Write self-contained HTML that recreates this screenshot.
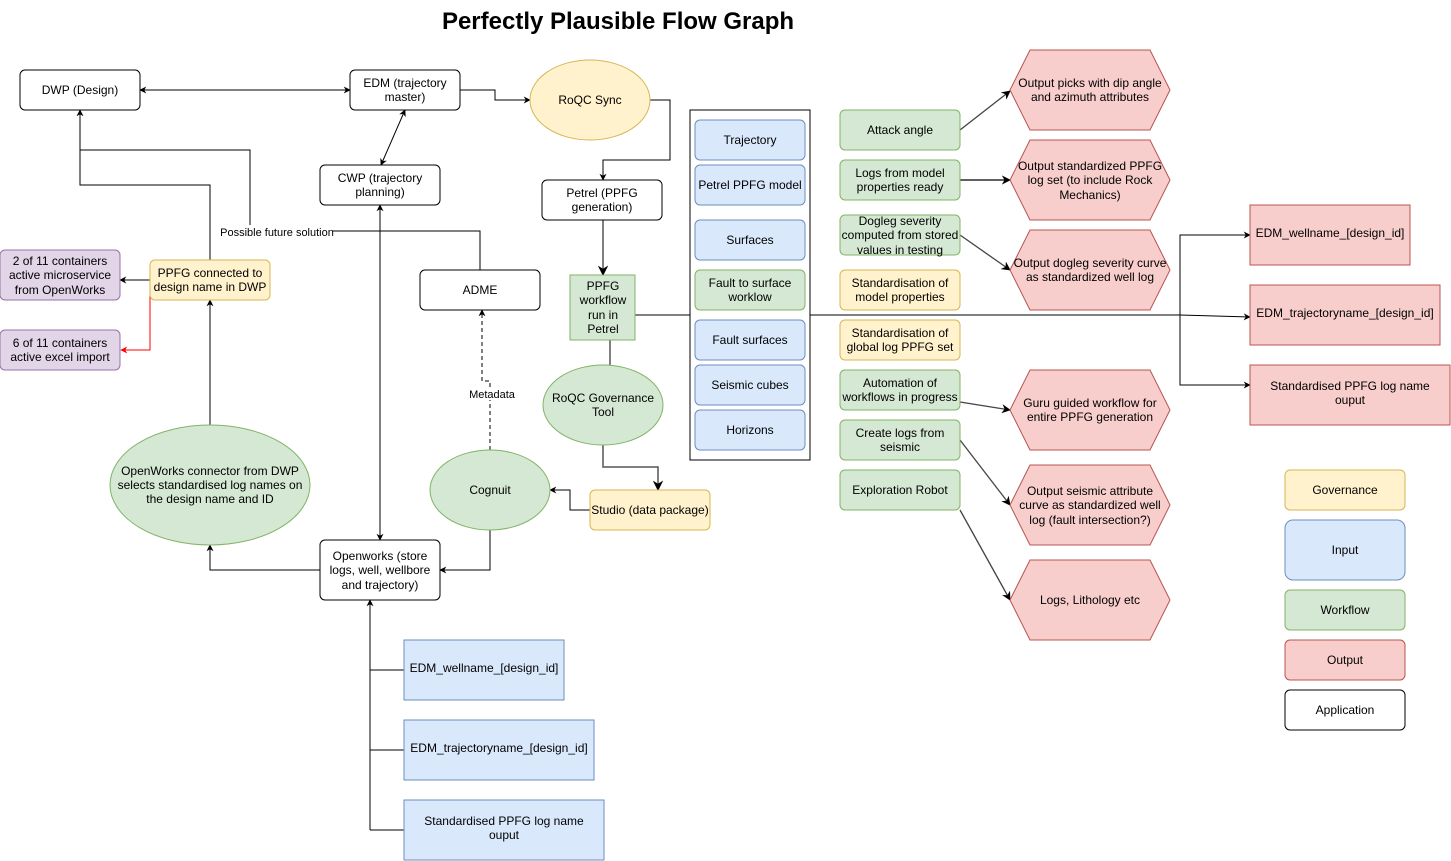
<!DOCTYPE html>
<html><head><meta charset="utf-8"><style>
body{margin:0;background:#fff}
svg{display:block}
text{font-family:"Liberation Sans",Arial,sans-serif;font-size:12px;fill:#000}
</style></head><body>
<svg width="1451" height="861" viewBox="0 0 1451 861" xmlns="http://www.w3.org/2000/svg">
<defs>
<marker id="a" viewBox="0 0 10 10" refX="9" refY="5" markerWidth="7" markerHeight="7" orient="auto-start-reverse"><path d="M0,0 L10,5 L0,10 L3,5 z" fill="#000"/></marker>
<marker id="r" viewBox="0 0 10 10" refX="9" refY="5" markerWidth="7" markerHeight="7" orient="auto"><path d="M0,0 L10,5 L0,10 L3,5 z" fill="#f00"/></marker>
</defs>
<text x="618" y="29" text-anchor="middle" style="font-size:24px;font-weight:bold">Perfectly Plausible Flow Graph</text>

<g fill="none" stroke="#000" stroke-width="1">
<line x1="140" y1="90" x2="350" y2="90" marker-start="url(#a)" marker-end="url(#a)"/>
<polyline points="460,90 495,90 495,100 530,100" marker-end="url(#a)"/>
<polyline points="650,100 670,100 670,160 603,160 603,180" marker-end="url(#a)"/>
<line x1="405" y1="110" x2="381" y2="165" marker-start="url(#a)" marker-end="url(#a)"/>
<line x1="380" y1="205" x2="380" y2="540" marker-start="url(#a)" marker-end="url(#a)"/>
<line x1="603" y1="220" x2="603" y2="275" stroke="#555" stroke-width="1.5" marker-end="url(#a)"/>
<line x1="610" y1="340" x2="610" y2="366" stroke="#555" stroke-width="1.5"/>
<polyline points="603,445 603,467 658,467 658,490" stroke="#555" stroke-width="1.5" marker-end="url(#a)"/>
<polyline points="590,510 570,510 570,490 550,490" marker-end="url(#a)"/>
<polyline points="490,530 490,570 440,570" marker-end="url(#a)"/>
<polyline points="490,450 490,381 482,381 482,310" stroke-dasharray="4,3" marker-end="url(#a)"/>
<polyline points="320,570 210,570 210,545" marker-end="url(#a)"/>
<line x1="210" y1="425" x2="210" y2="300" marker-end="url(#a)"/>
<polyline points="210,260 210,185 80,185 80,110" marker-end="url(#a)"/>
<polyline points="480,270 480,231 250,231 250,150 80,150"/>
<line x1="150" y1="280" x2="120" y2="280" marker-end="url(#a)"/>
<polyline points="150,290 150,350 121,350" stroke="#f00" marker-end="url(#r)"/>
<polyline points="635,315 1180,315 1250,317" marker-end="url(#a)"/>
<polyline points="1250,235 1180,235 1180,385 1250,385" />
<line x1="1180" y1="235" x2="1250" y2="235" marker-end="url(#a)"/>
<line x1="1180" y1="385" x2="1250" y2="385" marker-end="url(#a)"/>
<g stroke="#444" stroke-width="1.3">
<line x1="960" y1="130" x2="1010" y2="91" marker-end="url(#a)"/>
<line x1="960" y1="180" x2="1010" y2="180" stroke="#000" marker-end="url(#a)"/>
<line x1="960" y1="235" x2="1010" y2="270" marker-end="url(#a)"/>
<line x1="960" y1="402" x2="1010" y2="410" marker-end="url(#a)"/>
<line x1="960" y1="440" x2="1010" y2="505" marker-end="url(#a)"/>
<line x1="960" y1="510" x2="1010" y2="600" marker-end="url(#a)"/>
</g>
<line x1="370" y1="830" x2="370" y2="600" marker-end="url(#a)"/>
<line x1="370" y1="670" x2="404" y2="670"/>
<line x1="370" y1="750" x2="404" y2="750"/>
<line x1="370" y1="830" x2="404" y2="830"/>
</g>
<rect x="218" y="225" width="114" height="13" fill="#fff"/>
<text x="277" y="236" text-anchor="middle" style="font-size:11px">Possible future solution</text>
<rect x="468" y="387" width="50" height="13" fill="#fff"/>
<text x="492" y="398" text-anchor="middle" style="font-size:11px">Metadata</text>

<g stroke="#000" fill="#fff">
<rect x="20" y="70" width="120" height="40" rx="5"/>
<rect x="350" y="70" width="110" height="40" rx="5"/>
<rect x="320" y="165" width="120" height="40" rx="5"/>
<rect x="542" y="180" width="120" height="40" rx="5"/>
<rect x="420" y="270" width="120" height="40" rx="5"/>
<rect x="320" y="540" width="120" height="60" rx="5"/>
<rect x="690" y="110" width="120" height="350"/>
<rect x="1285" y="690" width="120" height="40" rx="5"/>
</g>
<ellipse cx="590" cy="100" rx="60" ry="40" fill="#fff2cc" stroke="#d6b656"/>
<ellipse cx="603" cy="405" rx="60" ry="40" fill="#d5e8d4" stroke="#82b366"/>
<ellipse cx="490" cy="490" rx="60" ry="40" fill="#d5e8d4" stroke="#82b366"/>
<ellipse cx="210" cy="485" rx="100" ry="60" fill="#d5e8d4" stroke="#82b366"/>
<rect x="570" y="275" width="65" height="65" fill="#d5e8d4" stroke="#82b366"/>
<rect x="590" y="490" width="120" height="40" rx="5" fill="#fff2cc" stroke="#d6b656"/>
<rect x="150" y="260" width="120" height="40" rx="5" fill="#fff2cc" stroke="#d6b656"/>
<rect x="0" y="250" width="120" height="50" rx="5" fill="#e1d5e7" stroke="#9673a6"/>
<rect x="0" y="330" width="120" height="40" rx="5" fill="#e1d5e7" stroke="#9673a6"/>

<g fill="#dae8fc" stroke="#6c8ebf">
<rect x="695" y="120" width="110" height="40" rx="5"/>
<rect x="695" y="165" width="110" height="40" rx="5"/>
<rect x="695" y="220" width="110" height="40" rx="5"/>
<rect x="695" y="320" width="110" height="40" rx="5"/>
<rect x="695" y="365" width="110" height="40" rx="5"/>
<rect x="695" y="410" width="110" height="40" rx="5"/>
<rect x="1285" y="520" width="120" height="60" rx="8"/>
<rect x="404" y="640" width="160" height="60"/>
<rect x="404" y="720" width="190" height="60"/>
<rect x="404" y="800" width="200" height="60"/>
</g>
<g fill="#d5e8d4" stroke="#82b366">
<rect x="695" y="270" width="110" height="40" rx="5"/>
<rect x="840" y="110" width="120" height="40" rx="5"/>
<rect x="840" y="160" width="120" height="40" rx="5"/>
<rect x="840" y="215" width="120" height="40" rx="5"/>
<rect x="840" y="370" width="120" height="40" rx="5"/>
<rect x="840" y="420" width="120" height="40" rx="5"/>
<rect x="840" y="470" width="120" height="40" rx="5"/>
<rect x="1285" y="590" width="120" height="40" rx="5"/>
</g>
<g fill="#fff2cc" stroke="#d6b656">
<rect x="840" y="270" width="120" height="40" rx="5"/>
<rect x="840" y="320" width="120" height="40" rx="5"/>
<rect x="1285" y="470" width="120" height="40" rx="5"/>
</g>
<g fill="#f8cecc" stroke="#b85450">
<polygon points="1030,50 1150,50 1170,90 1150,130 1030,130 1010,90"/>
<polygon points="1030,140 1150,140 1170,180 1150,220 1030,220 1010,180"/>
<polygon points="1030,230 1150,230 1170,270 1150,310 1030,310 1010,270"/>
<polygon points="1030,370 1150,370 1170,410 1150,450 1030,450 1010,410"/>
<polygon points="1030,465 1150,465 1170,505 1150,545 1030,545 1010,505"/>
<polygon points="1030,560 1150,560 1170,600 1150,640 1030,640 1010,600"/>
<rect x="1250" y="205" width="160" height="60"/>
<rect x="1250" y="285" width="190" height="60"/>
<rect x="1250" y="365" width="200" height="60"/>
<rect x="1285" y="640" width="120" height="40" rx="5"/>
</g>

<g text-anchor="middle">
<text x="80" y="94">DWP (Design)</text>
<text x="405" y="87">EDM (trajectory</text><text x="405" y="101">master)</text>
<text x="590" y="104">RoQC Sync</text>
<text x="380" y="182">CWP (trajectory</text><text x="380" y="196">planning)</text>
<text x="602" y="197">Petrel (PPFG</text><text x="602" y="211">generation)</text>
<text x="480" y="294">ADME</text>
<text x="603" y="290">PPFG</text><text x="603" y="304">workflow</text><text x="603" y="319">run in</text><text x="603" y="333">Petrel</text>
<text x="603" y="402">RoQC Governance</text><text x="603" y="416">Tool</text>
<text x="490" y="494">Cognuit</text>
<text x="650" y="514">Studio (data package)</text>
<text x="380" y="560">Openworks (store</text><text x="380" y="574">logs, well, wellbore</text><text x="380" y="589">and trajectory)</text>
<text x="210" y="475">OpenWorks connector from DWP</text><text x="210" y="489">selects standardised log names on</text><text x="210" y="503">the design name and ID</text>
<text x="210" y="277">PPFG connected to</text><text x="210" y="291">design name in DWP</text>
<text x="60" y="265">2 of 11 containers</text><text x="60" y="279">active microservice</text><text x="60" y="294">from OpenWorks</text>
<text x="60" y="347">6 of 11 containers</text><text x="60" y="361">active excel import</text>
<text x="750" y="144">Trajectory</text>
<text x="750" y="189">Petrel PPFG model</text>
<text x="750" y="244">Surfaces</text>
<text x="750" y="287">Fault to surface</text><text x="750" y="301">worklow</text>
<text x="750" y="344">Fault surfaces</text>
<text x="750" y="389">Seismic cubes</text>
<text x="750" y="434">Horizons</text>
<text x="900" y="134">Attack angle</text>
<text x="900" y="177">Logs from model</text><text x="900" y="191">properties ready</text>
<text x="900" y="225">Dogleg severity</text><text x="900" y="239">computed from stored</text><text x="900" y="254">values in testing</text>
<text x="900" y="287">Standardisation of</text><text x="900" y="301">model properties</text>
<text x="900" y="337">Standardisation of</text><text x="900" y="351">global log PPFG set</text>
<text x="900" y="387">Automation of</text><text x="900" y="401">workflows in progress</text>
<text x="900" y="437">Create logs from</text><text x="900" y="451">seismic</text>
<text x="900" y="494">Exploration Robot</text>
<text x="1090" y="87">Output picks with dip angle</text><text x="1090" y="101">and azimuth attributes</text>
<text x="1090" y="170">Output standardized PPFG</text><text x="1090" y="184">log set (to include Rock</text><text x="1090" y="199">Mechanics)</text>
<text x="1090" y="267">Output dogleg severity curve</text><text x="1090" y="281">as standardized well log</text>
<text x="1090" y="407">Guru guided workflow for</text><text x="1090" y="421">entire PPFG generation</text>
<text x="1090" y="495">Output seismic attribute</text><text x="1090" y="509">curve as standardized well</text><text x="1090" y="524">log (fault intersection?)</text>
<text x="1090" y="604">Logs, Lithology etc</text>
<text x="1330" y="237">EDM_wellname_[design_id]</text>
<text x="1345" y="317">EDM_trajectoryname_[design_id]</text>
<text x="1350" y="390">Standardised PPFG log name</text><text x="1350" y="404">ouput</text>
<text x="1345" y="494">Governance</text>
<text x="1345" y="554">Input</text>
<text x="1345" y="614">Workflow</text>
<text x="1345" y="664">Output</text>
<text x="1345" y="714">Application</text>
<text x="484" y="672">EDM_wellname_[design_id]</text>
<text x="499" y="752">EDM_trajectoryname_[design_id]</text>
<text x="504" y="825">Standardised PPFG log name</text><text x="504" y="839">ouput</text>
</g>
</svg>
</body></html>
